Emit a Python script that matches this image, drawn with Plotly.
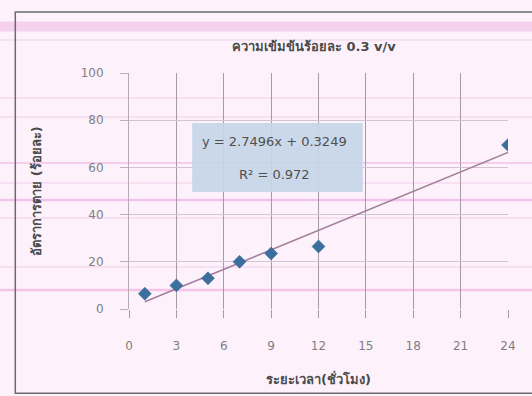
import numpy as np
import plotly.graph_objects as go

# Mortality over time at 0.3 % v/v concentration
hours = [1, 3, 5, 7, 9, 12, 24]
mortality = [6.5, 10, 13, 20, 23.5, 26.5, 69.5]

# Linear trendline coefficients and fit quality
slope = 2.7496
intercept = 0.3249
r_squared = 0.972

x_ticks = [0, 3, 6, 9, 12, 15, 18, 21, 24]
y_ticks = [0, 20, 40, 60, 80, 100]

title_text = "ความเข้มข้นร้อยละ 0.3 v/v"
x_title = "ระยะเวลา(ชั่วโมง)"
y_title = "อัตราการตาย (ร้อยละ)"

FONT = "DejaVu Sans, Tahoma, sans-serif"
THAI_FONT = "Tahoma, DejaVu Sans, sans-serif"

trend_x = np.array([hours[0], hours[-1]], dtype=float)
trend_y = slope * trend_x + intercept

fig = go.Figure()
fig.add_trace(go.Scatter(
    x=trend_x, y=trend_y, mode="lines",
    line=dict(color="#a3819e", width=1.6),
    hoverinfo="skip", showlegend=False,
))
fig.add_trace(go.Scatter(
    x=hours, y=mortality, mode="markers",
    marker=dict(symbol="diamond", size=10, color="#3b6f9e",
                line=dict(color="#33618c", width=0.5)),
    showlegend=False,
))

# Trendline equation box
fig.add_shape(type="rect", xref="x", yref="y", x0=4.0, x1=14.8, y0=49.6, y1=78.8,
              fillcolor="#c5d6e8", line=dict(width=0), layer="above", opacity=0.92)
fig.add_annotation(x=9.2, y=71.0, xref="x", yref="y", showarrow=False,
                   text=f"y = {slope}x + {intercept}",
                   font=dict(family=FONT, size=13, color="#505050"))
fig.add_annotation(x=9.2, y=57.0, xref="x", yref="y", showarrow=False,
                   text=f"R² = {r_squared}",
                   font=dict(family=FONT, size=13, color="#505050"))

# faint pink scan bands across the page
bands = [(1.197, 10, 0.35), (1.14, 1.5, 0.25), (0.894, 1.5, 0.25), (0.814, 1.5, 0.25),
         (0.619, 2, 0.4), (0.534, 1.5, 0.25), (0.462, 2.5, 0.5), (0.386, 1.5, 0.25),
         (0.178, 1.5, 0.25), (0.0805, 2.5, 0.5)]
for yp, w, a in bands:
    fig.add_shape(type="line", xref="paper", yref="paper", x0=-0.35, x1=1.1, y0=yp, y1=yp,
                  line=dict(color=f"rgba(232,150,218,{a})", width=w), layer="below")

# outer chart border
fig.add_shape(type="rect", xref="paper", yref="paper", x0=-0.30, x1=1.08, y0=-0.357, y1=1.258,
              line=dict(color="#6b6b6b", width=1.5), layer="above")

fig.update_layout(
    width=532, height=396,
    margin=dict(l=129, r=24, t=73, b=87),
    paper_bgcolor="#fdf2fb",
    plot_bgcolor="#fdf2fb",
    title=dict(text=title_text, x=0.59, xanchor="center", y=0.882, yanchor="middle",
               font=dict(family=THAI_FONT, size=13, color="#4a4a4a", weight="bold")),
    xaxis=dict(
        range=[0, 24], tickvals=x_ticks, ticks="outside", ticklen=8,
        tickcolor="#a59aa6", showgrid=True, gridcolor="#a59aa6", gridwidth=1,
        zeroline=False, showline=False, ticklabelstandoff=18,
        tickfont=dict(family=FONT, size=12, color="#7f7f7f"),
        title=dict(text=x_title, standoff=22,
                   font=dict(family=THAI_FONT, size=13, color="#4a4a4a", weight="bold")),
    ),
    yaxis=dict(
        range=[0, 100], tickvals=y_ticks, ticks="outside", ticklen=8,
        tickcolor="#bdb3bf", showgrid=True, gridcolor="#cfc4d0", gridwidth=1,
        zeroline=False, showline=True, linecolor="#b5aab6", ticklabelstandoff=14,
        tickfont=dict(family=FONT, size=12, color="#7f7f7f"),
        title=dict(text=y_title, standoff=36,
                   font=dict(family=THAI_FONT, size=13, color="#4a4a4a", weight="bold")),
    ),
)

fig.write_html("out.html")
